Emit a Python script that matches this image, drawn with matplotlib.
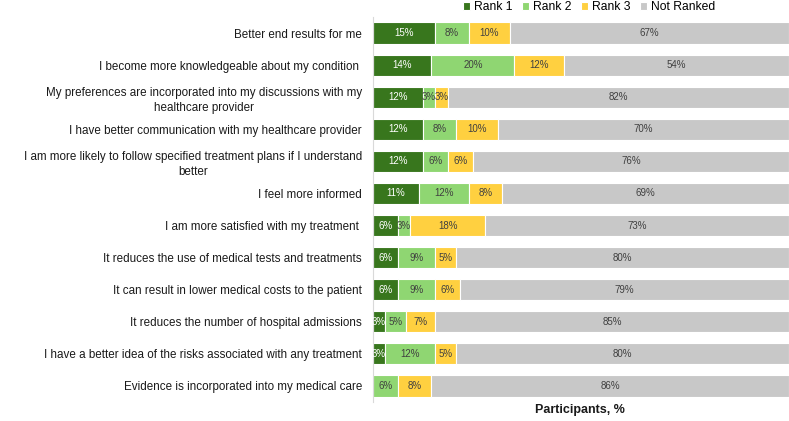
import matplotlib
matplotlib.use("Agg")
import matplotlib.pyplot as plt
import numpy as np

plt.rcParams['font.family'] = ['Liberation Sans', 'DejaVu Sans']

categories = [
    "Better end results for me",
    "I become more knowledgeable about my condition ",
    "My preferences are incorporated into my discussions with my\nhealthcare provider",
    "I have better communication with my healthcare provider",
    "I am more likely to follow specified treatment plans if I understand\nbetter",
    "I feel more informed",
    "I am more satisfied with my treatment ",
    "It reduces the use of medical tests and treatments",
    "It can result in lower medical costs to the patient",
    "It reduces the number of hospital admissions",
    "I have a better idea of the risks associated with any treatment",
    "Evidence is incorporated into my medical care",
]
rank1 = [15, 14, 12, 12, 12, 11, 6, 6, 6, 3, 3, 0]
rank2 = [8, 20, 3, 8, 6, 12, 3, 9, 9, 5, 12, 6]
rank3 = [10, 12, 3, 10, 6, 8, 18, 5, 6, 7, 5, 8]
not_ranked = [67, 54, 82, 70, 76, 69, 73, 80, 79, 85, 80, 86]

series = [("Rank 1", rank1, "#38761d", "white"),
          ("Rank 2", rank2, "#8fd672", "#404040"),
          ("Rank 3", rank3, "#ffd040", "#404040"),
          ("Not Ranked", not_ranked, "#c8c8c8", "#404040")]

fig = plt.figure(figsize=(7.89, 4.21), dpi=100)
ax = fig.add_axes([373 / 789, 1 - 402 / 421, 1 - 373 / 789, (402 - 17) / 421])

y = np.arange(len(categories))
left = np.zeros(len(categories))
for name, vals, color, tcolor in series:
    vals = np.array(vals, dtype=float)
    bars = ax.barh(y, vals, left=left, height=0.66, color=color,
                   edgecolor="white", linewidth=0.8, label=name)
    for b, v, l in zip(bars, vals, left):
        if v > 0:
            ax.text(l + v / 2, b.get_y() + b.get_height() / 2, f"{int(v)}%",
                    ha="center", va="center", fontsize=7, color=tcolor)
    left += vals

ax.set_xlim(0, 100)
ax.set_ylim(len(categories) - 0.5, -0.5)
ax.set_yticks(y)
ax.set_yticklabels(categories, fontsize=8.4, multialignment="center",
                   linespacing=1.35, color="#1a1a1a")
ax.tick_params(axis="y", length=0, pad=8)
ax.set_xticks([])
for s in ["top", "right", "bottom"]:
    ax.spines[s].set_visible(False)
ax.spines["left"].set_color("#d9d9d9")
ax.spines["left"].set_linewidth(0.8)

ax.legend(loc="center", bbox_to_anchor=(589 / 789, 1 - 7 / 421),
          bbox_transform=fig.transFigure, ncol=4, frameon=False,
          fontsize=8.7, handlelength=0.6, handleheight=0.6,
          handletextpad=0.3, columnspacing=0.8, borderaxespad=0)

fig.text(580 / 789, 1 - 410 / 421, "Participants, %", ha="center", va="center",
         fontsize=9, fontweight="bold", color="#1a1a1a")

fig.savefig("out.png", dpi=100)
